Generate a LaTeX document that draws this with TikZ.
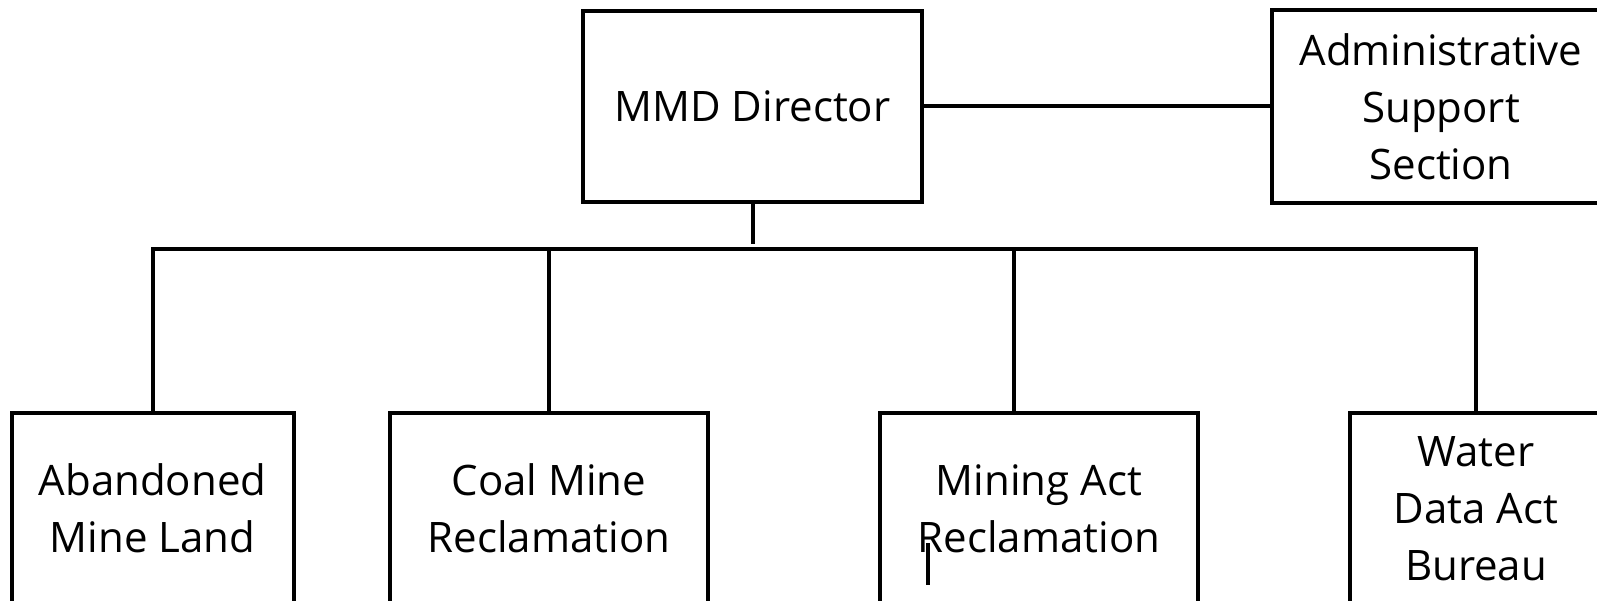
\documentclass[tikz,border=0pt]{standalone}
\usepackage{fontspec}
\setmainfont{Open Sans}
\usepackage{tikz}
\usetikzlibrary{calc}

\begin{document}
\begin{tikzpicture}[x=1pt,y=-1pt,line width=4pt,
  unit/.style={draw,rectangle,align=center,inner sep=0pt,
    font=\fontsize{42}{57}\selectfont,minimum height=192pt}]

\clip (0,0) rectangle (1597,601);

\node[unit,minimum width=339pt,minimum height=191pt] (director) at (752.5,106.5) {MMD Director};

\node[unit,minimum width=338pt,minimum height=193pt] (admin) at (1441,106.5) {Administrative\\Support\\Section};

\node[unit,minimum width=282pt] (aml) at (152.5,508.5) {Abandoned\\Mine Land};

\node[unit,minimum width=318pt] (coal) at (549,508.5) {Coal Mine\\Reclamation};

\node[unit,minimum width=318pt] (mining) at (1039,508.5) {Mining Act\\Reclamation};

\node[unit,minimum width=252pt] (water) at (1476,508.5) {Water\\Data Act\\Bureau};

\coordinate (bus) at (753,249);
\coordinate (stemend) at (753,244);
\coordinate (mtop) at (1014,412);
\coordinate (caret) at (928,543);


\draw (director.south -| stemend) -- (stemend);
\draw (director.east) -- (admin.west);
\draw (aml.north) |- (bus) -| (water.north);
\draw (coal.north) -- (coal.north |- bus);
\draw (mtop) -- (mtop |- bus);
\draw (caret) -- ++(0,42);


\end{tikzpicture}
\end{document}
